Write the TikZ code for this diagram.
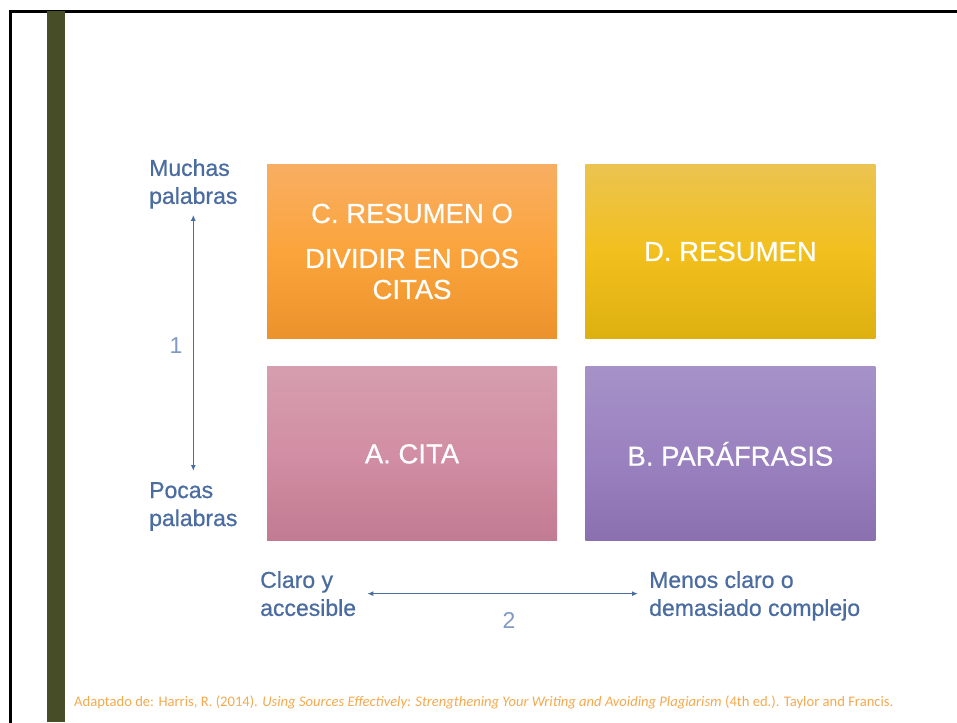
\documentclass[tikz,border=0pt]{standalone}
\usepackage{fontspec}
\setmainfont{Liberation Sans}
\newfontfamily\notefont{Carlito}
\newfontfamily\labelfont[FakeBold=0.7]{Liberation Sans}
\newfontfamily\quadfont[FakeBold=0.5]{Liberation Sans}
\usetikzlibrary{arrows.meta,positioning,calc}

\definecolor{labelblue}{RGB}{74,108,160}
\definecolor{numblue}{RGB}{127,155,196}
\definecolor{olivebar}{RGB}{71,77,38}
\definecolor{notecolor}{RGB}{245,169,78}
\definecolor{ctop}{RGB}{248,174,98}
\definecolor{cmid}{RGB}{251,164,60}
\definecolor{cbot}{RGB}{236,146,44}
\definecolor{dtop}{RGB}{235,195,80}
\definecolor{dmid}{RGB}{242,192,30}
\definecolor{dbot}{RGB}{221,176,16}
\definecolor{atop}{RGB}{213,158,174}
\definecolor{amid}{RGB}{210,142,164}
\definecolor{abot}{RGB}{193,123,146}
\definecolor{btop}{RGB}{166,146,200}
\definecolor{bmid}{RGB}{155,130,192}
\definecolor{bbot}{RGB}{138,112,175}

\tikzset{
  quad/.style={minimum width=290pt, minimum height=174pt, inner sep=0pt,
    text=white, align=center, font=\quadfont\fontsize{27.5}{31}\selectfont},
  axislabel/.style={text=labelblue, align=left, inner sep=0pt,
    font=\labelfont\fontsize{23}{28}\selectfont},
  axisnum/.style={text=numblue, inner sep=0pt, font=\fontsize{23}{28}\selectfont},
  axisarrow/.style={labelblue, line width=1.3pt,
    {Latex[length=6pt,width=5pt]}-{Latex[length=6pt,width=5pt]}},
}

\begin{document}
\begin{tikzpicture}[x=1pt,y=-1pt]
      \def\gap{28pt}
      \clip (0,0) rectangle (957,722);

      % frame and side bar
      \draw[line width=2.5pt] (10.5,740) |- (980,11.5);
      \fill[olivebar] (47,11) rectangle (65,722);

      % the four quadrants
      \node[quad, top color=ctop, bottom color=cbot, middle color=cmid] (cquad) at (412,251.5)
        {C. RESUMEN O\\[14pt]DIVIDIR EN DOS\\CITAS};
      \node[quad, top color=dtop, bottom color=dbot, middle color=dmid, right=\gap of cquad] (dquad)
        {D. RESUMEN};
      \node[quad, top color=atop, bottom color=abot, middle color=amid, below=\gap of cquad] (aquad)
        {A. CITA};
      \node[quad, top color=btop, bottom color=bbot, middle color=bmid, below=\gap of dquad] (bquad)
        {B. PAR\'AFRASIS};

      % axis labels
      \node[axislabel, anchor=north west] (muchas) at (149,159) {Muchas\\palabras};
      \node[axislabel, anchor=north west] (pocas) at (149,482) {Pocas\\palabras};
      \node[axislabel, anchor=north west] (claro) at (260,571) {Claro y\\accesible};
      \node[axislabel, anchor=north west] (menos) at (649,571) {Menos claro o\\demasiado complejo};
      \node[axisnum] (one) at (176,346) {1};
      \node[axisnum] (two) at (509,620) {2};

      \draw[axisarrow, shorten <=6pt, shorten >=11pt] (muchas.south) -- (pocas.north);
      \draw[axisarrow, shorten <=11pt, shorten >=11pt] (claro.east) -- (claro.east -| menos.west);

      % source
      \node[anchor=west, inner sep=0pt, text=notecolor, font=\notefont\fontsize{14.6}{17}\selectfont] (source) at (74,702)
        {Adaptado de: Harris, R. (2014). \textit{Using Sources Effectively: Strengthening Your Writing and Avoiding Plagiarism} (4th ed.). Taylor and Francis.};
    \end{tikzpicture}
\end{document}
